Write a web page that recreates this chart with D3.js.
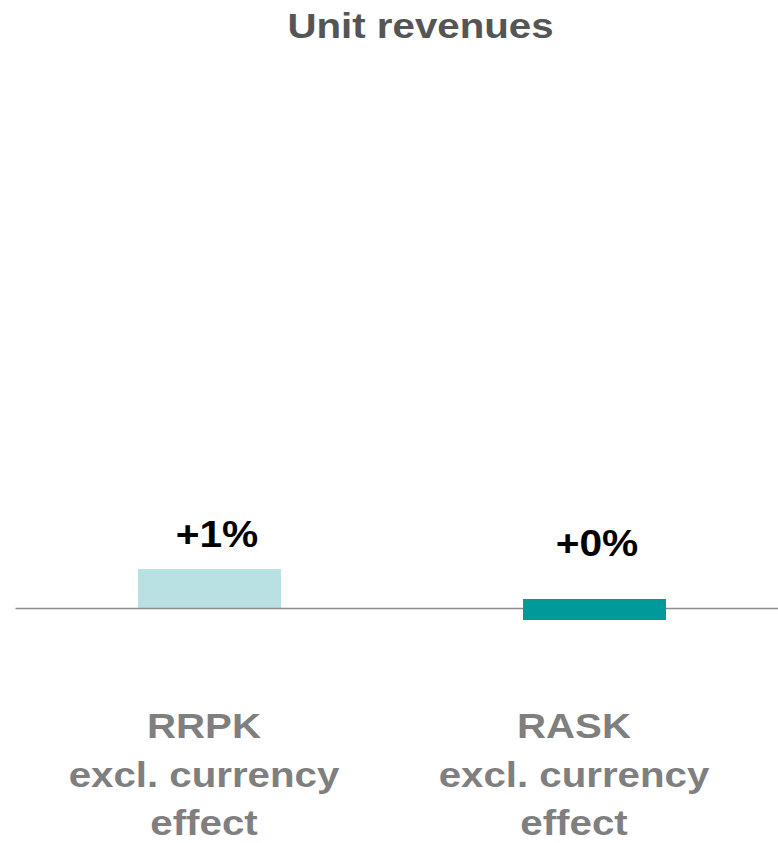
<!DOCTYPE html>
<html>
<head>
<meta charset="utf-8">
<script src="https://cdn.jsdelivr.net/npm/d3@7"></script>
<style>
  html, body { margin: 0; padding: 0; background: #fff; }
  svg { display: block; font-family: "Liberation Sans", Arial, sans-serif; }
</style>
</head>
<body>
<svg id="chart" width="778" height="843"></svg>
<script>
// Unit revenue change, year over year (%)
const title = "Unit revenues";
const categories = ["RRPK", "RASK"];
const categoryLines = [
  ["RRPK", "excl. currency", "effect"],
  ["RASK", "excl. currency", "effect"]
];
const values = [1, 0];
const valueLabels = ["+1%", "+0%"];
const barColors = ["#b9e0e3", "#009a9a"];

const W = 778, H = 843;
const svg = d3.select("#chart");
const stretch = 1.15; // wide-set lettering

const x = d3.scaleBand()
  .domain(categories)
  .range([17, 787])
  .paddingInner(0.6286)
  .paddingOuter(0.3143);

const y = d3.scaleLinear().domain([0, 1]).range([608.5, 569]);

// Label rows sit on their own point scales
const xValueLabel = d3.scalePoint().domain(categories).range([217, 597]);
const xCatLabel = d3.scalePoint().domain(categories).range([204, 574]);

const data = categories.map((c, i) => ({
  cat: c, value: values[i], label: valueLabels[i], color: barColors[i], lines: categoryLines[i]
}));

// Title
svg.append("text")
  .attr("transform", `translate(420.5,38) scale(${stretch},1)`)
  .attr("text-anchor", "middle")
  .attr("font-size", 35)
  .attr("font-weight", "bold")
  .attr("fill", "#555555")
  .text(title);

// Bars (zero values get a thin marker straddling the baseline)
const zeroMarker = 21;
svg.append("g").selectAll("rect")
  .data(data.filter(d => d.value !== 0))
  .join("rect")
  .attr("x", d => x(d.cat))
  .attr("width", x.bandwidth())
  .attr("y", d => y(Math.max(d.value, 0)))
  .attr("height", d => Math.abs(y(d.value) - y(0)))
  .attr("fill", d => d.color);

// Baseline
svg.append("line")
  .attr("x1", 15.5).attr("x2", 778)
  .attr("y1", y(0)).attr("y2", y(0))
  .attr("stroke", "#8c8c8c")
  .attr("stroke-width", 1.5);

svg.append("g").selectAll("rect")
  .data(data.filter(d => d.value === 0))
  .join("rect")
  .attr("x", d => x(d.cat))
  .attr("width", x.bandwidth())
  .attr("y", y(0) - 9.5)
  .attr("height", zeroMarker)
  .attr("fill", d => d.color);

// Value labels
svg.append("g").selectAll("text")
  .data(data)
  .join("text")
  .attr("transform", d => {
    const ty = d.value === 0 ? y(0) - 52.5 : y(d.value) - 22;
    return `translate(${xValueLabel(d.cat)},${ty}) scale(1.1,1)`;
  })
  .attr("text-anchor", "middle")
  .attr("font-size", 37)
  .attr("font-weight", "bold")
  .attr("fill", "#000")
  .text(d => d.label);

// Category labels
const cat = svg.append("g").selectAll("g")
  .data(data)
  .join("g");
cat.each(function(d) {
  d.lines.forEach((ln, j) => {
    d3.select(this).append("text")
      .attr("transform", `translate(${xCatLabel(d.cat)},${738 + j * 48.5}) scale(${stretch},1)`)
      .attr("text-anchor", "middle")
      .attr("font-size", 35)
      .attr("font-weight", "bold")
      .attr("fill", "#7f7f7f")
      .text(ln);
  });
});
</script>
</body>
</html>
